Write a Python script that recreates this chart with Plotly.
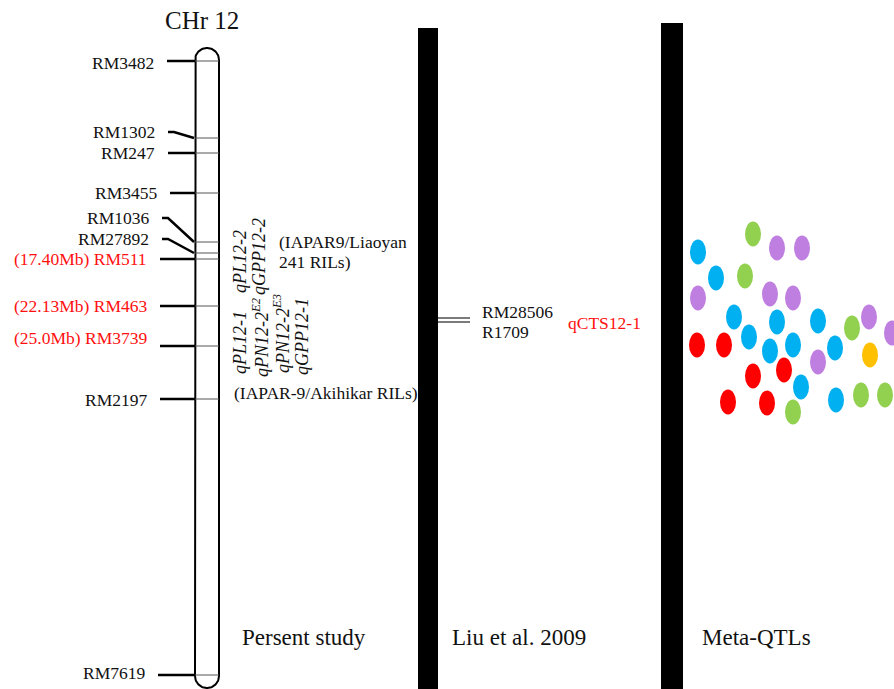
import numpy as np
import plotly.graph_objects as go

# ---------------- data ----------------
title = "CHr 12"
marker_names = ["RM3482", "RM1302", "RM247", "RM3455", "RM1036", "RM27892",
                "RM511", "RM463", "RM3739", "RM2197", "RM7619"]
marker_phys = ["", "", "", "", "", "", "17.40Mb", "22.13Mb", "25.0Mb", "", ""]
marker_pos = [61, 138, 153, 193, 242, 253, 259, 306, 346, 399, 675]
label_pos = [63, 132, 153, 193, 218, 239, 259, 306, 338, 400, 673]

qtl_upper = ["qPL12-2", "qGPP12-2"]
qtl_upper_pos = [262, 257]
qtl_lower = ["qPL12-1", "qPN12-2<sup>E2</sup>", "qPN12-2<sup>E3</sup>", "qGPP12-1"]
qtl_lower_pos = [343, 337, 334, 337]
pop_upper = ["(IAPAR9/Liaoyan", "241 RILs)"]
pop_upper_pos = [242, 262]
pop_lower = "(IAPAR-9/Akihikar RILs)"
pop_lower_pos = 393

liu_markers = ["RM28506", "R1709"]
liu_pos = [318, 322]
liu_label_pos = [312, 332]
liu_qtl = "qCTS12-1"
liu_qtl_pos = 323

panel_titles = ["Persent study", "Liu et al. 2009", "Meta-QTLs"]

meta_x = [698, 753, 777, 802, 716, 745, 698, 770, 793, 734, 777, 818, 852, 869, 892,
          697, 724, 749, 770, 793, 835, 818, 870, 753, 784, 801, 728, 767, 793, 836, 861, 885]
meta_y = [252, 234, 248, 248, 278, 276, 298, 294, 298, 317, 322, 321, 328, 317, 333,
          345, 345, 337, 351, 345, 348, 362, 355, 376, 370, 387, 402, 403, 412, 400, 395, 395]
meta_cat = ["blue", "green", "purple", "purple", "blue", "green", "purple", "purple", "purple",
            "blue", "blue", "blue", "green", "purple", "purple",
            "red", "red", "blue", "blue", "blue", "blue", "purple", "orange",
            "red", "red", "blue", "red", "red", "green", "blue", "green", "green"]

# ---------------- styles ----------------
W, H = 894, 689
FONT = "Liberation Serif"
RED = "#ff1010"
cat_colors = {"blue": "#00b0f0", "green": "#92d050", "purple": "#bf7fe0",
              "red": "#ff0000", "orange": "#ffc000"}
chr_left, chr_right = 195, 219
chr_top, chr_bottom = 60, 676
line_start = [167, 168, 168, 170, 162, 162, 160, 160, 160, 160, 158]
bent = [False, True, False, False, True, True, False, False, False, False, False]
dot_w, dot_h = 16, 25

fig = go.Figure()
shapes = []
ann = []

# chromosome outline
r = (chr_right - chr_left) / 2
cx = (chr_left + chr_right) / 2
t = np.linspace(np.pi, 0, 40)
top_x = cx + r * np.cos(t)
top_y = chr_top - r * np.sin(t)
b = np.linspace(0, -np.pi, 40)
bot_x = cx + r * np.cos(b)
bot_y = chr_bottom - r * np.sin(b)
ox = np.concatenate([[chr_left], top_x, [chr_right], bot_x, [chr_left]])
oy = np.concatenate([[chr_bottom], top_y, [chr_top], bot_y, [chr_bottom]])
fig.add_trace(go.Scatter(x=ox, y=oy, mode="lines", line=dict(color="black", width=2),
                         hoverinfo="skip", showlegend=False))

# markers
for i, name in enumerate(marker_names):
    y = marker_pos[i]
    # inner line
    fig.add_trace(go.Scatter(x=[chr_left, chr_right], y=[y, y], mode="lines",
                             line=dict(color="#555", width=1), hoverinfo="skip", showlegend=False))
    xs0 = line_start[i]
    if bent[i]:
        ly = label_pos[i]
        xs = [xs0, xs0 + 6, chr_left - 1]
        ys = [ly, ly, y]
    else:
        xs = [xs0, chr_left]
        ys = [y, y]
    fig.add_trace(go.Scatter(x=xs, y=ys, mode="lines", line=dict(color="black", width=2.5),
                             hoverinfo="skip", showlegend=False))
    txt = name if not marker_phys[i] else f"({marker_phys[i]}) {name}"
    col = RED if marker_phys[i] else "#111"
    ann.append(dict(x=xs0 - 11, y=label_pos[i], text=txt, xanchor="right", yanchor="middle",
                    showarrow=False, font=dict(size=17.5, color=col, family=FONT)))

# QTL labels (rotated, italic)
for lbl, yp, xp in zip(qtl_upper, qtl_upper_pos, [240, 259]):
    ann.append(dict(x=xp, y=yp, text=f"<i>{lbl}</i>", textangle=-90, showarrow=False,
                    xanchor="center", yanchor="middle", font=dict(size=18, color="#111", family=FONT)))
for lbl, yp, xp in zip(qtl_lower, qtl_lower_pos, [240, 260, 281, 302]):
    ann.append(dict(x=xp, y=yp, text=f"<i>{lbl}</i>", textangle=-90, showarrow=False,
                    xanchor="center", yanchor="middle", font=dict(size=18, color="#111", family=FONT)))
for lbl, yp in zip(pop_upper, pop_upper_pos):
    ann.append(dict(x=277, y=yp, text=lbl, xanchor="left", yanchor="middle", showarrow=False,
                    font=dict(size=17.5, color="#111", family=FONT)))
ann.append(dict(x=232, y=pop_lower_pos, text=pop_lower, xanchor="left", yanchor="middle",
                showarrow=False, font=dict(size=17.5, color="#111", family=FONT)))

# Liu et al. bar
shapes.append(dict(type="rect", xref="x", yref="y", x0=418, x1=438, y0=28, y1=H,
                   fillcolor="black", line=dict(width=0)))
for yp in liu_pos:
    fig.add_trace(go.Scatter(x=[438, 470], y=[yp, yp], mode="lines",
                             line=dict(color="#333", width=1.3), hoverinfo="skip", showlegend=False))
for lbl, yp in zip(liu_markers, liu_label_pos):
    ann.append(dict(x=480, y=yp, text=lbl, xanchor="left", yanchor="middle", showarrow=False,
                    font=dict(size=17.5, color="#111", family=FONT)))
ann.append(dict(x=566, y=liu_qtl_pos, text=liu_qtl, xanchor="left", yanchor="middle",
                showarrow=False, font=dict(size=17.5, color=RED, family=FONT)))

# Meta-QTL bar
shapes.append(dict(type="rect", xref="x", yref="y", x0=661, x1=683, y0=23, y1=H,
                   fillcolor="black", line=dict(width=0)))
for x, y, c in zip(meta_x, meta_y, meta_cat):
    shapes.append(dict(type="circle", xref="x", yref="y",
                       x0=x - dot_w / 2, x1=x + dot_w / 2, y0=y - dot_h / 2, y1=y + dot_h / 2,
                       fillcolor=cat_colors[c], line=dict(width=0)))

# titles
ann.append(dict(x=202, y=20, text=title, xanchor="center", yanchor="middle", showarrow=False,
                font=dict(size=25, color="#111", family=FONT)))
for lbl, xp in zip(panel_titles, [240, 450, 700]):
    ann.append(dict(x=xp, y=637, text=lbl, xanchor="left", yanchor="middle", showarrow=False,
                    font=dict(size=23, color="#111", family=FONT)))

fig.update_layout(
    width=W, height=H, margin=dict(l=0, r=0, t=0, b=0),
    paper_bgcolor="white", plot_bgcolor="white",
    xaxis=dict(range=[0, W], visible=False, fixedrange=True),
    yaxis=dict(range=[H, 0], visible=False, fixedrange=True),
    shapes=shapes, annotations=ann, showlegend=False,
    font=dict(family=FONT),
)
fig.write_html("out.html", config={"displayModeBar": False},
               post_script="document.body.style.margin='0';")
